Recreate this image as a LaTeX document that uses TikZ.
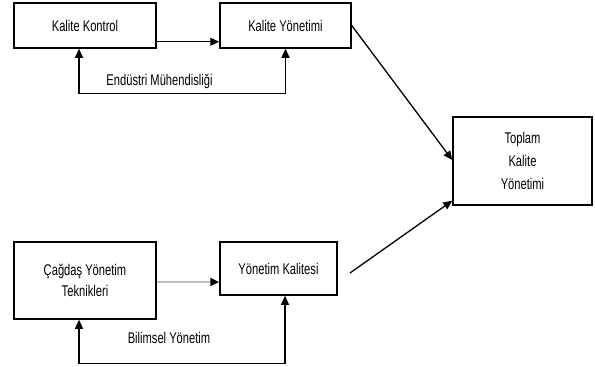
\documentclass[tikz,border=0pt]{standalone}
\usepackage{fontspec}
\setmainfont[FakeStretch=0.72]{Liberation Sans}
\usetikzlibrary{arrows.meta}
\begin{document}
\begin{tikzpicture}[x=1pt,y=1pt,
        box/.style={draw, line width=1.5pt, align=center, inner sep=0pt,
                font=\fontsize{15.5}{21}\selectfont},
        arr/.style={line width=1.3pt, -{Triangle[length=9pt,width=8pt]}},
        darr/.style={line width=1.3pt, {Triangle[length=9pt,width=8pt]}-{Triangle[length=9pt,width=8pt]}},
        lbl/.style={font=\fontsize{15.5}{17}\selectfont}]
        \useasboundingbox (0,0) rectangle (595,-367);
        % boxes
        \node[box, minimum width=142, minimum height=45] (kk) at (85,-25.5) {Kalite Kontrol};
        \node[box, minimum width=131, minimum height=45] (ky) at (285.5,-25.5) {Kalite Y\"onetimi};
        \node[box, minimum width=139, minimum height=88, font=\fontsize{15.5}{23}\selectfont] (tky) at (522.5,-161) {Toplam\\Kalite\\Y\"onetimi};
        \node[box, minimum width=142, minimum height=77] (cyt) at (85,-280.5) {\c{C}a\u{g}da\c{s} Y\"onetim\\Teknikleri};
        \node[box, minimum width=117, minimum height=53] (yk) at (278.5,-268.5) {Y\"onetim Kalitesi};
        % upper part
        \draw[arr] ([yshift=7pt]kk.south east) -- ([yshift=7pt]ky.south west);
        \draw[darr] ([xshift=-6pt]kk.south) -- ++(0,-45) -| (ky.south);
        \node[lbl] (em) at (159.5,-81) {End\"ustri M\"uhendisli\u{g}i};
        % lower part
        \draw[line width=2.5pt, gray!50, -{Triangle[length=9pt,width=8pt,color=black]}] ([yshift=-1.5pt]cyt.east) -- ([yshift=-1.5pt]cyt.east -| yk.west);
        \draw[darr] ([xshift=-6pt]cyt.south) -- ++(0,-44) -| ([xshift=6.5pt]yk.south);
        \node[lbl] (by) at (169,-338) {Bilimsel Y\"onetim};
        % to the right box
        \draw[arr] (ky.east) -- ([yshift=1pt]tky.west);
        \coordinate (s2) at (350,-273);
        \draw[arr] (s2) -- ([yshift=5pt]tky.south west);
\end{tikzpicture}
\end{document}
